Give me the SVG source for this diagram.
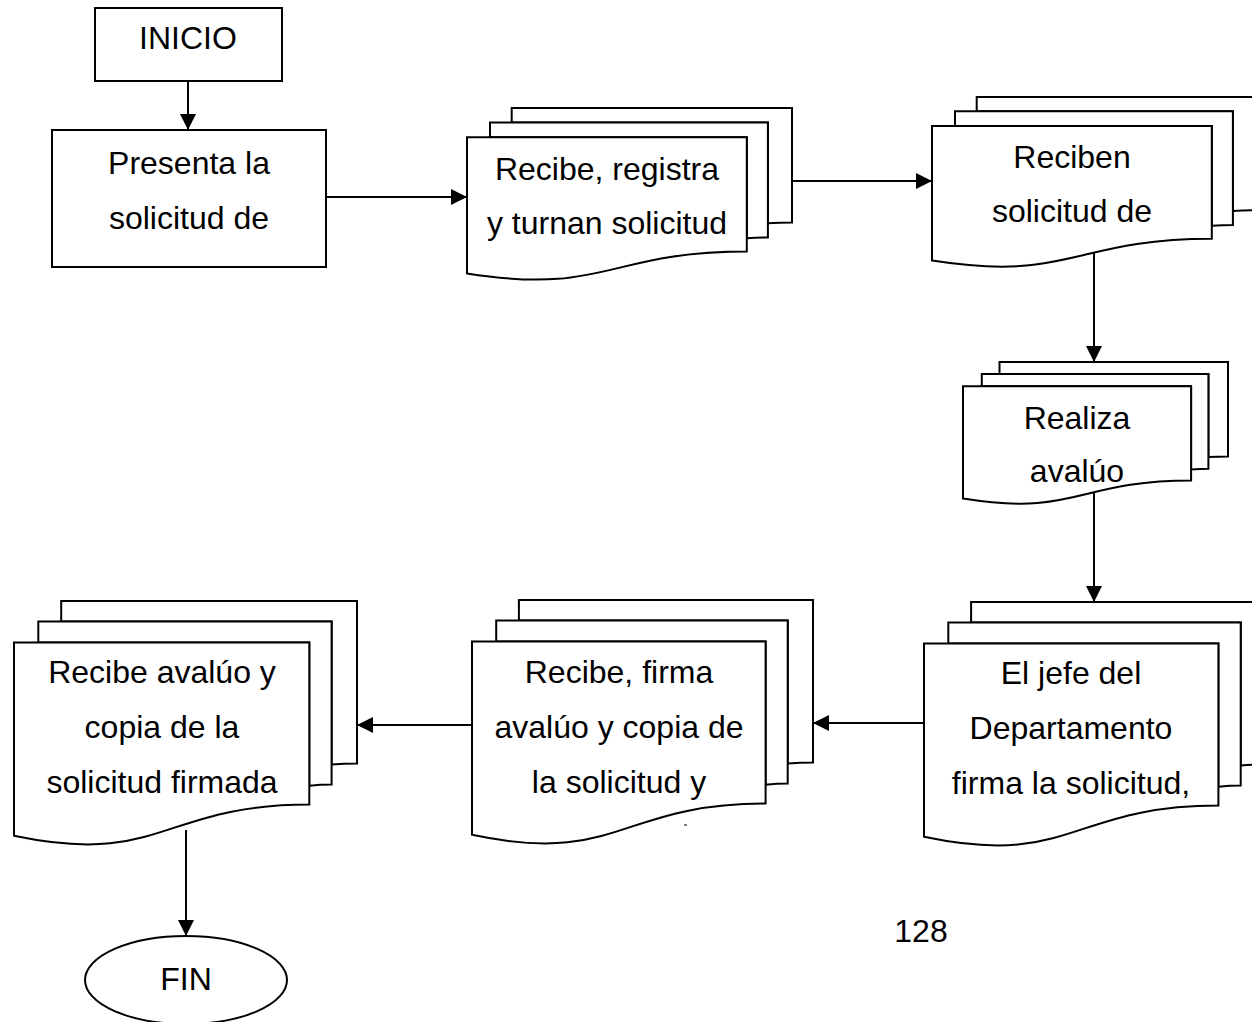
<svg xmlns="http://www.w3.org/2000/svg" width="1252" height="1022" viewBox="0 0 1252 1022">
  <style>
    .box { fill: #ffffff; stroke: #000000; stroke-width: 2; }
    .link { fill: none; stroke: #000000; stroke-width: 2; marker-end: url(#arrow); }
    .label { font-family: "Liberation Sans", Arial, sans-serif; font-size: 32px; fill: #000000; text-anchor: middle; }
  </style>
  <defs>
    <marker id="arrow" markerUnits="userSpaceOnUse" markerWidth="16" markerHeight="16" refX="16" refY="8" orient="auto">
      <path d="M0,0 L16,8 L0,16 Z" fill="#000000"/>
    </marker>
  </defs>
  <rect width="1252" height="1022" fill="#ffffff"/>

  <!-- connectors (drawn first so the documents cover their tails) -->
  <g id="connectors">
    <path class="link" d="M188,81 L188,130"/>
    <path class="link" d="M326,197 L467,197"/>
    <path class="link" d="M792,181 L932,181"/>
    <path class="link" d="M1094,250 L1094,362"/>
    <path class="link" d="M1094,490 L1094,602"/>
    <path class="link" d="M924,723 L813,723"/>
    <path class="link" d="M472,725 L357,725"/>
    <path class="link" d="M186,830 L186,936"/>
  </g>

  <g id="inicio">
    <rect class="box" x="95" y="8" width="187" height="73"/>
    <text class="label" x="188" y="49">INICIO</text>
  </g>

  <g id="presenta">
    <rect class="box" x="52" y="130" width="274" height="137"/>
    <text class="label" x="189" y="174">Presenta la</text>
    <text class="label" x="189" y="229">solicitud de</text>
  </g>

  <g id="recibe-registra">
    <path class="box" d="M511.7,122.5 L511.7,108 L792,108 L792,222.6 C780,222.6 767.9,223.2 767.9,223.2 L767.9,122.5 Z"/>
    <path class="box" d="M490,137.3 L490,122.5 L767.9,122.5 L767.9,237.4 C757.4,237.4 746.8,238.2 746.8,238.2 L746.8,137.3 Z"/>
    <path class="box" d="M467,273.5 C606.9,295.5 606.9,251.5 746.8,251.5 L746.8,137.3 L467,137.3 Z"/>
    <text class="label" x="607" y="180">Recibe, registra</text>
    <text class="label" x="607" y="234">y turnan solicitud</text>
  </g>

  <g id="reciben">
    <path class="box" d="M976.7,111.3 L976.7,97 L1257,97 L1257,210.3 C1245,210.3 1232.9,210.9 1232.9,210.9 L1232.9,111.3 Z"/>
    <path class="box" d="M955,125.9 L955,111.3 L1232.9,111.3 L1232.9,224.9 C1222.4,224.9 1211.8,225.7 1211.8,225.7 L1211.8,125.9 Z"/>
    <path class="box" d="M932,260.6 C1071.9,282.3 1071.9,238.8 1211.8,238.8 L1211.8,125.9 L932,125.9 Z"/>
    <text class="label" x="1072" y="168">Reciben</text>
    <text class="label" x="1072" y="222">solicitud de</text>
  </g>

  <g id="realiza">
    <path class="box" d="M999.5,373.9 L999.5,362 L1228,362 L1228,456.6 C1218.2,456.6 1208.4,457.1 1208.4,457.1 L1208.4,373.9 Z"/>
    <path class="box" d="M981.8,386.2 L981.8,373.9 L1208.4,373.9 L1208.4,468.8 C1199.8,468.8 1191.1,469.5 1191.1,469.5 L1191.1,386.2 Z"/>
    <path class="box" d="M963,498.6 C1077.1,516.8 1077.1,480.5 1191.1,480.5 L1191.1,386.2 L963,386.2 Z"/>
    <text class="label" x="1077" y="429">Realiza</text>
    <text class="label" x="1077" y="482">avalúo</text>
  </g>

  <g id="jefe">
    <path class="box" d="M971.1,622.5 L971.1,602 L1266,602 L1266,764.6 C1253.3,764.6 1240.7,765.4 1240.7,765.4 L1240.7,622.5 Z"/>
    <path class="box" d="M948.3,643.5 L948.3,622.5 L1240.7,622.5 L1240.7,785.6 C1229.6,785.6 1218.4,786.7 1218.4,786.7 L1218.4,643.5 Z"/>
    <path class="box" d="M924,836.8 C1071.2,867.9 1071.2,805.6 1218.4,805.6 L1218.4,643.5 L924,643.5 Z"/>
    <text class="label" x="1071" y="684">El jefe del</text>
    <text class="label" x="1071" y="739">Departamento</text>
    <text class="label" x="1071" y="794">firma la solicitud,</text>
  </g>

  <g id="recibe-firma">
    <path class="box" d="M518.9,620.5 L518.9,600 L813,600 L813,762.6 C800.4,762.6 787.7,763.4 787.7,763.4 L787.7,620.5 Z"/>
    <path class="box" d="M496.2,641.5 L496.2,620.5 L787.7,620.5 L787.7,783.6 C776.7,783.6 765.6,784.7 765.6,784.7 L765.6,641.5 Z"/>
    <path class="box" d="M472,834.8 C618.8,865.9 618.8,803.6 765.6,803.6 L765.6,641.5 L472,641.5 Z"/>
    <text class="label" x="619" y="683">Recibe, firma</text>
    <text class="label" x="619" y="738">avalúo y copia de</text>
    <text class="label" x="619" y="793">la solicitud y</text>
    <line x1="684" y1="825" x2="687" y2="825" stroke="#000000" stroke-width="1"/>
  </g>

  <g id="recibe-avaluo">
    <path class="box" d="M61.2,621.5 L61.2,601 L357,601 L357,763.6 C344.3,763.6 331.6,764.4 331.6,764.4 L331.6,621.5 Z"/>
    <path class="box" d="M38.3,642.5 L38.3,621.5 L331.6,621.5 L331.6,784.6 C320.4,784.6 309.3,785.7 309.3,785.7 L309.3,642.5 Z"/>
    <path class="box" d="M14,835.8 C161.6,866.9 161.6,804.6 309.3,804.6 L309.3,642.5 L14,642.5 Z"/>
    <text class="label" x="162" y="683">Recibe avalúo y</text>
    <text class="label" x="162" y="738">copia de la</text>
    <text class="label" x="162" y="793">solicitud firmada</text>
  </g>

  <g id="fin">
    <ellipse class="box" cx="186" cy="980" rx="101" ry="44"/>
    <text class="label" x="186" y="990">FIN</text>
  </g>

  <text class="label" x="921" y="942">128</text>
</svg>
